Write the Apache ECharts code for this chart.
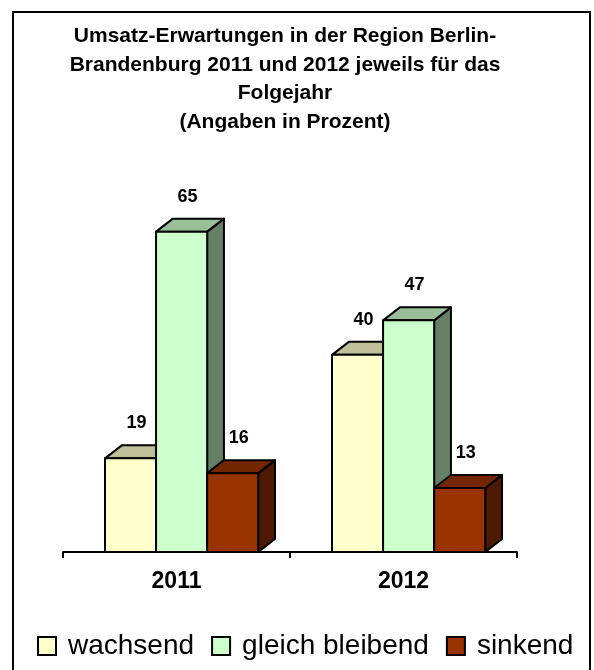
<!DOCTYPE html>
<html>
<head>
<meta charset="utf-8">
<script src="https://cdn.jsdelivr.net/npm/echarts@6/dist/echarts.min.js"></script>
<style>html,body{margin:0;padding:0;background:#fff}#c{width:594px;height:670px}</style>
</head>
<body>
<div id="c"></div>
<script>
var categories = ['2011', '2012'];
var wachsend = [19, 40];
var gleichBleibend = [65, 47];
var sinkend = [16, 13];
var seriesNames = ['wachsend', 'gleich bleibend', 'sinkend'];
var titleLines = ['Umsatz-Erwartungen in der Region Berlin-', 'Brandenburg 2011 und 2012 jeweils für das', 'Folgejahr', '(Angaben in Prozent)'];

var FONT = '"Liberation Sans", Arial, sans-serif';
var palette = [
  {front: '#FFFFCC', top: '#BFBF99', side: '#808066'},
  {front: '#CCFFCC', top: '#99BF99', side: '#668066'},
  {front: '#993300', top: '#732600', side: '#4D1A00'}
];
var values = [wachsend, gleichBleibend, sinkend];

function makeRender(si) {
  return function (params, api) {
    var cat = api.value(0), val = api.value(1);
    var base = api.coord([cat, 0]);
    var top = api.coord([cat, val]);
    var band = api.size([1, 0])[0];
    var bw = band * 0.225;
    var x0 = base[0] - band * 0.315 + si * bw;
    var x1 = x0 + bw;
    var dx = band * 0.074, dy = -13;
    var y0 = base[1], y1 = top[1];
    var c = palette[si];
    var stroke = {stroke: '#000', lineWidth: 2, lineJoin: 'round'};
    return {
      type: 'group',
      children: [
        {type: 'polygon', shape: {points: [[x1, y1], [x1 + dx, y1 + dy], [x1 + dx, y0 + dy], [x1, y0]]},
          style: Object.assign({fill: c.side}, stroke)},
        {type: 'polygon', shape: {points: [[x0, y1], [x0 + dx, y1 + dy], [x1 + dx, y1 + dy], [x1, y1]]},
          style: Object.assign({fill: c.top}, stroke)},
        {type: 'rect', shape: {x: x0, y: y1, width: bw, height: y0 - y1},
          style: Object.assign({fill: c.front}, stroke)},
        {type: 'text', x: (x0 + x1) / 2 + 6, y: y1 - 35,
          style: {text: String(val), font: 'bold 18px ' + FONT, fill: '#000', align: 'center', verticalAlign: 'middle'}}
      ]
    };
  };
}

var series = seriesNames.map(function (name, si) {
  return {
    type: 'custom',
    name: name,
    renderItem: makeRender(si),
    encode: {x: 0, y: 1},
    itemStyle: {color: palette[si].front, borderColor: '#000', borderWidth: 2},
    data: categories.map(function (c, i) { return [i, values[si][i]]; }),
    z: 2 + si
  };
});

var chart = echarts.init(document.getElementById('c'), null, {renderer: 'canvas'});
chart.setOption({
  animation: false,
  backgroundColor: '#fff',
  graphic: [
    {type: 'rect', shape: {x: 13, y: 12, width: 577, height: 700},
      style: {fill: 'none', stroke: '#000', lineWidth: 2}, z: 0, silent: true},
    {type: 'text', x: 285, y: 22, z: 10,
      style: {text: titleLines.join('\n'), font: 'bold 21px ' + FONT, fill: '#000', align: 'center', verticalAlign: 'top', lineHeight: 28.5}}
  ],
  grid: {left: 63, right: 77, top: 207, bottom: 118},
  xAxis: {
    type: 'category',
    data: categories,
    axisLine: {lineStyle: {color: '#000', width: 2}},
    axisTick: {show: true, length: 6, lineStyle: {color: '#000', width: 2}},
    axisLabel: {color: '#000', fontSize: 23, fontWeight: 'bold', fontFamily: FONT, margin: 18}
  },
  yAxis: {type: 'value', min: 0, max: 70, show: false, splitLine: {show: false}},
  legend: {
    data: seriesNames,
    left: 37, top: 632, padding: 0,
    itemWidth: 18, itemHeight: 18, itemGap: 17,
    icon: 'rect',
    itemStyle: {borderColor: '#000', borderWidth: 2},
    textStyle: {color: '#000', fontSize: 28, fontFamily: FONT, padding: [0, 0, 0, 7]}
  },
  series: series
});
</script>
</body>
</html>
